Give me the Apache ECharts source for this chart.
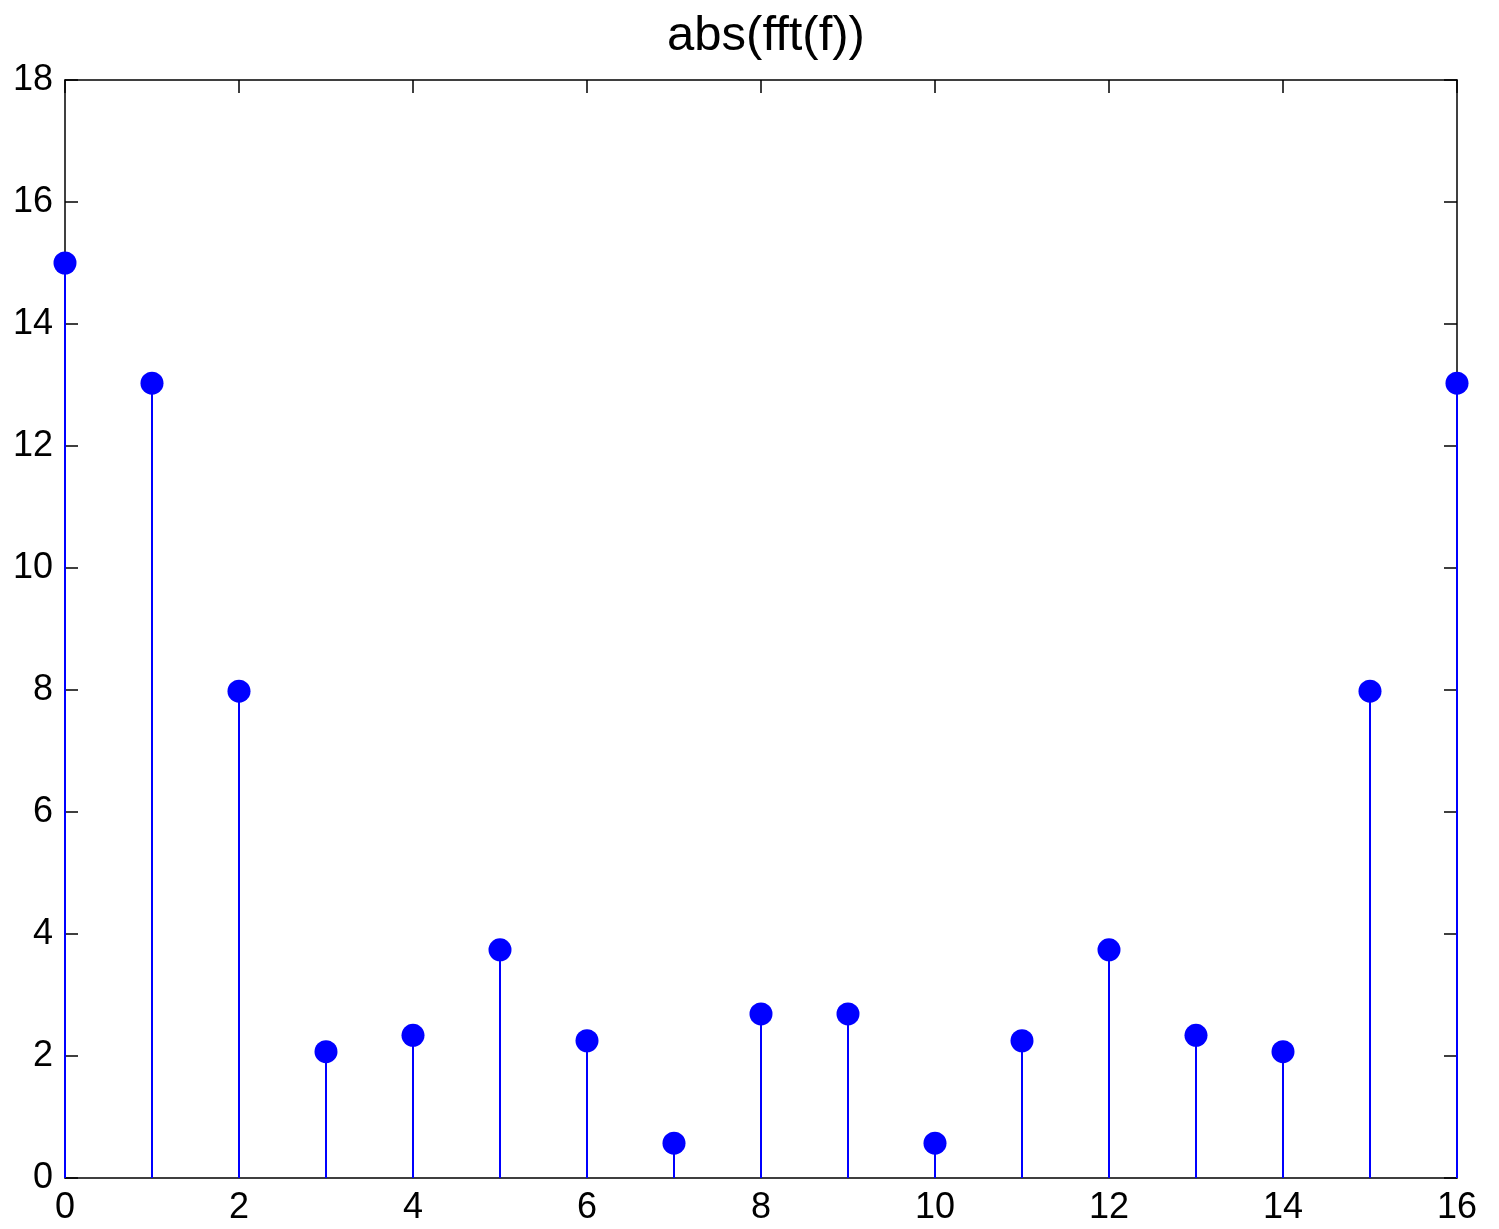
<!DOCTYPE html>
<html><head><meta charset="utf-8">
<script src="https://cdn.jsdelivr.net/npm/echarts@6/dist/echarts.min.js"></script>
<style>html,body{margin:0;padding:0;background:#fff}#c{width:1499px;height:1229px}</style>
</head><body><div id="c"></div>
<script>
const xIndex = [0,1,2,3,4,5,6,7,8,9,10,11,12,13,14,15,16];
const magnitudes = [15.0,13.03,7.98,2.07,2.34,3.74,2.25,0.57,2.69,2.69,0.57,2.25,3.74,2.34,2.07,7.98,13.03];
const titleText = 'abs(fft(f))';

const pts = xIndex.map((x,i)=>[x, magnitudes[i]]);
const font = 'Liberation Sans, Arial, Helvetica, sans-serif';
const axisCommon = {
  axisLine:{show:true,onZero:false,lineStyle:{color:'#000',width:1.5}},
  axisTick:{show:true,inside:true,length:13,lineStyle:{color:'#000',width:1.5}},
  splitLine:{show:false}
};
const chart = echarts.init(document.getElementById('c'));
chart.setOption({
  animation:false,
  backgroundColor:'#fff',
  title:{text:titleText,left:761,textAlign:'center',top:7,textStyle:{fontFamily:font,fontSize:49,fontWeight:'normal',color:'#000'}},
  grid:{left:65,right:42,top:80,bottom:51,containLabel:false},
  xAxis:[
    Object.assign({type:'value',min:0,max:16,interval:2,position:'bottom',
      axisLabel:{color:'#000',fontFamily:font,fontSize:36,margin:12}},axisCommon),
    Object.assign({type:'value',min:0,max:16,interval:2,position:'top',
      axisLabel:{show:false}},axisCommon)
  ],
  yAxis:[
    Object.assign({type:'value',min:0,max:18,interval:2,position:'left',
      axisLabel:{color:'#000',fontFamily:font,fontSize:36,margin:12}},axisCommon),
    Object.assign({type:'value',min:0,max:18,interval:2,position:'right',
      axisLabel:{show:false}},axisCommon)
  ],
  series:[
    {type:'bar',data:pts,barWidth:2,itemStyle:{color:'#0000ff'},xAxisIndex:0,yAxisIndex:0,z:2},
    {type:'scatter',data:pts,symbol:'circle',symbolSize:23,itemStyle:{color:'#0000ff',opacity:1},xAxisIndex:0,yAxisIndex:0,z:3}
  ]
});
</script></body></html>
